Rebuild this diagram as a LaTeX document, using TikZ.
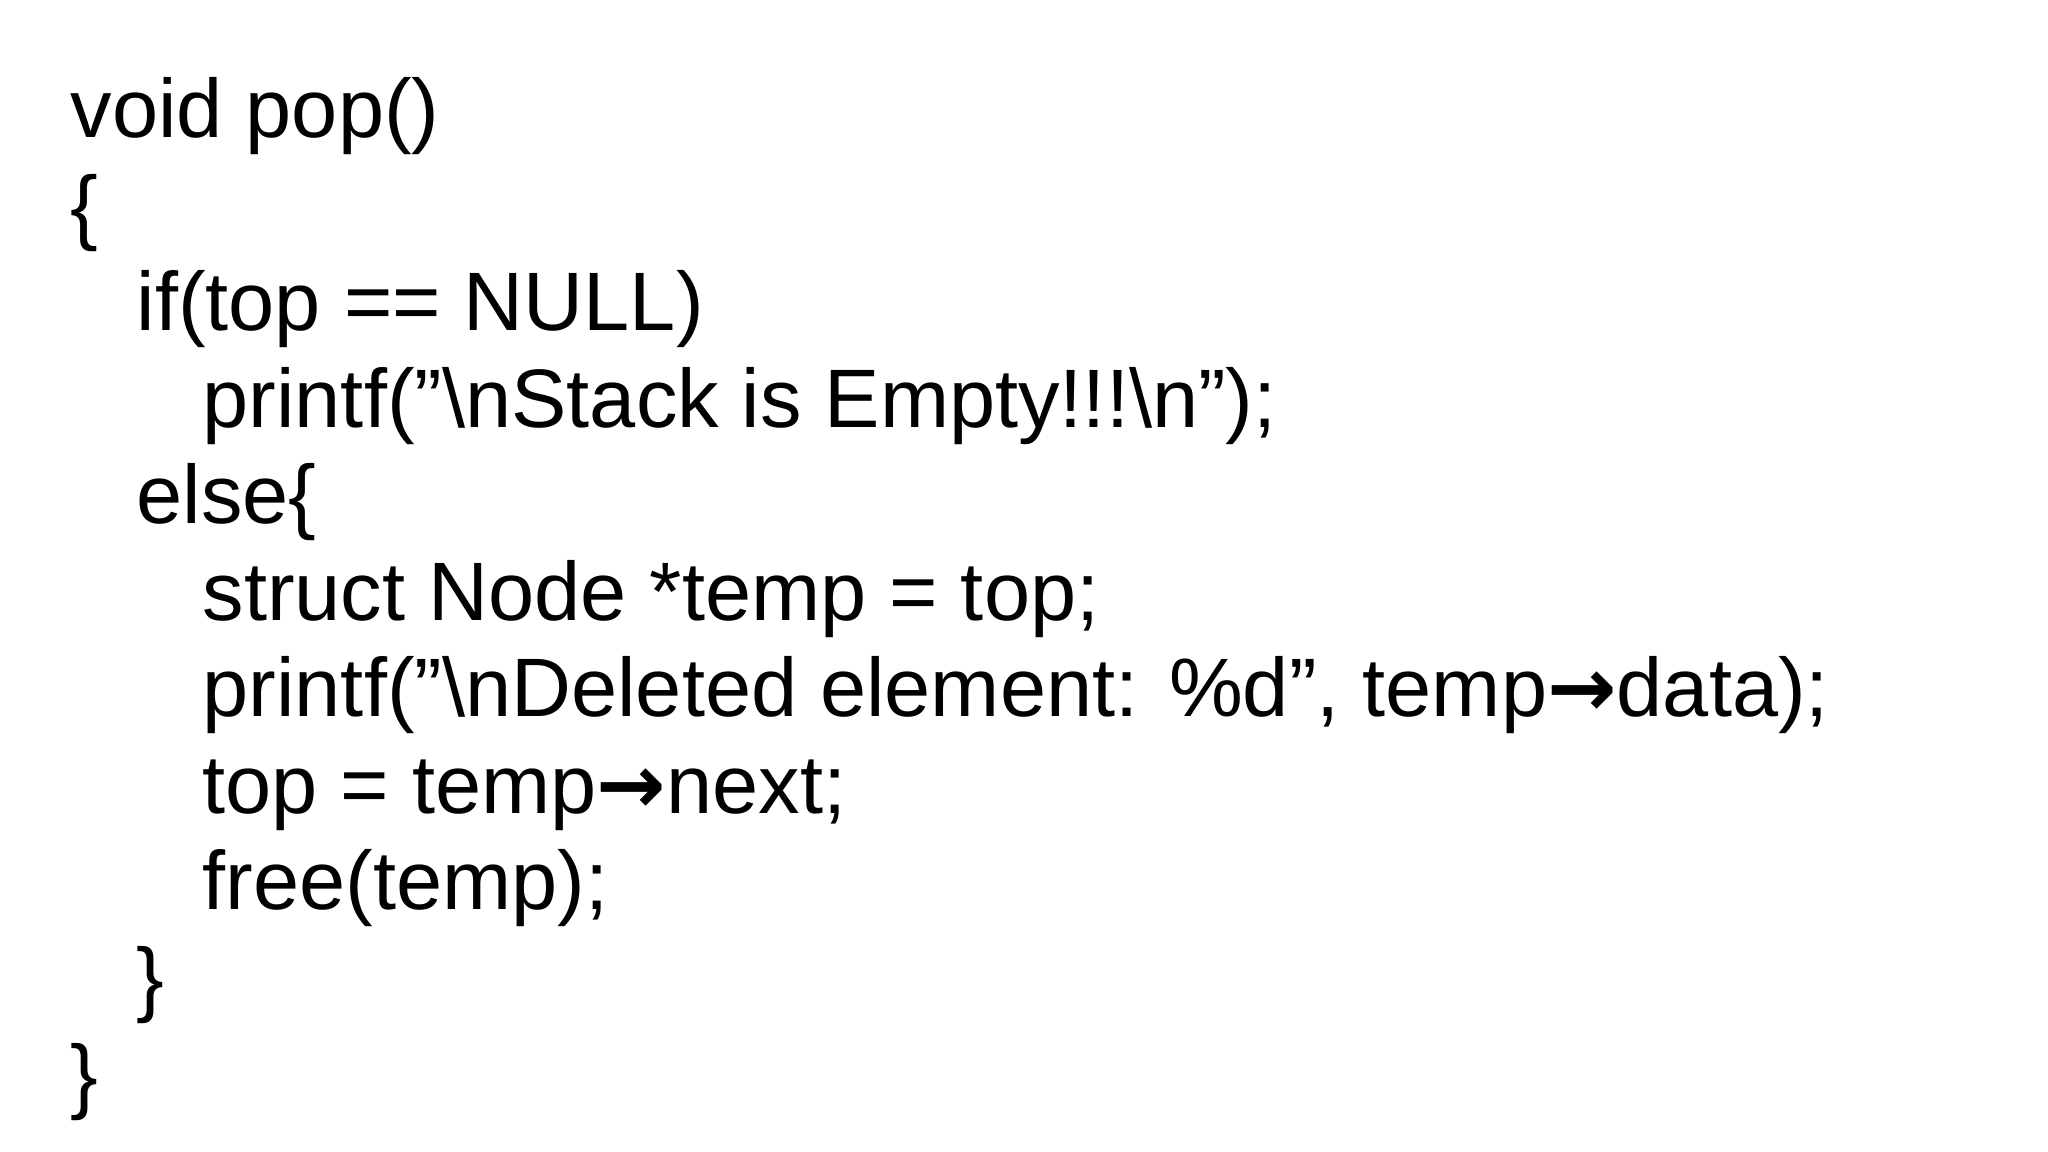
\documentclass[tikz,border=0pt]{standalone}
\usepackage{fontspec}
\setmainfont{Liberation Sans}
\newfontfamily\arrowfont{DejaVu Sans}
\begin{document}
\begin{tikzpicture}[x=0.1mm,y=-0.1mm,
  code/.style={anchor=base west,inner sep=0pt,font=\fontsize{23.6pt}{27pt}\selectfont}]
\useasboundingbox (0,0) rectangle (2048,1152);
\fill[white] (0,0) rectangle (2048,1152);
\newcommand{\arr}{{\arrowfont\bfseries →}}
\node[code] (l1) at (70,138) {void pop()};
\node[code] (l2) at (70,234.5) {\{};
\node[code] (l3) at (136,331) {if(top == NULL)};
\node[code] (l4) at (202,427.5) {printf("\textbackslash nStack is Empty!!!\textbackslash n");};
\node[code] (l5) at (136,524) {else\{};
\node[code] (l6) at (202,620.5) {struct Node *temp = top;};
\node[code] (l7) at (202,717) {printf("\textbackslash nDeleted element: \%d", temp\arr data);};
\node[code] (l8) at (202,813.5) {top = temp\arr next;};
\node[code] (l9) at (202,910) {free(temp);};
\node[code] (l10) at (136,1006.5) {\}};
\node[code] (l11) at (70,1103) {\}};
\end{tikzpicture}
\end{document}
